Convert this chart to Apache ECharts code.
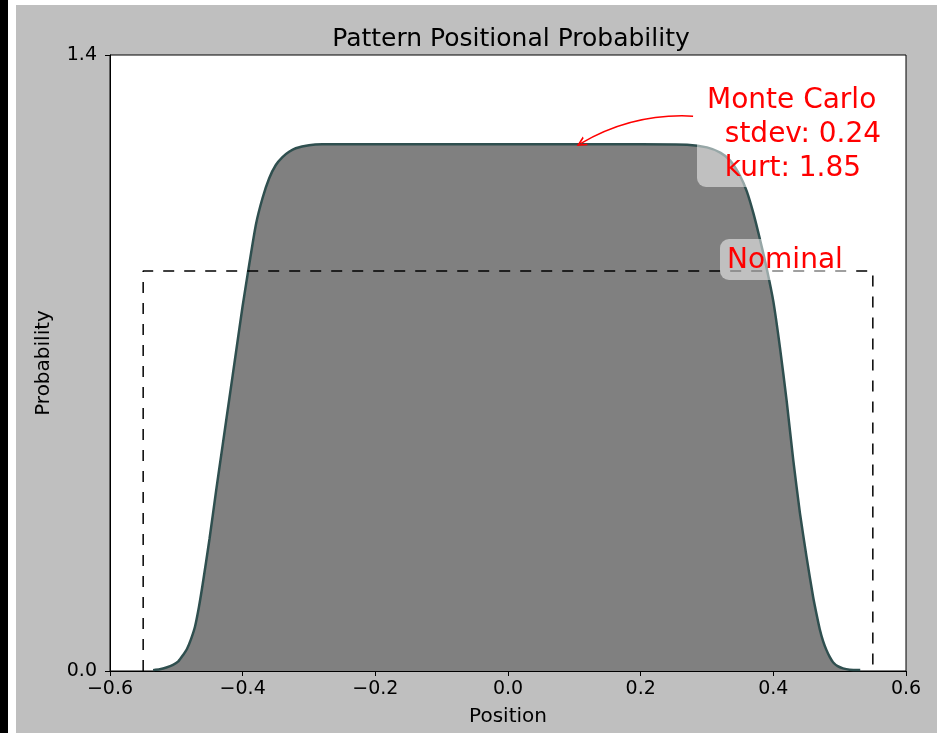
<!DOCTYPE html>
<html>
<head>
<meta charset="utf-8">
<script src="https://cdn.jsdelivr.net/npm/echarts@6/dist/echarts.min.js"></script>
<style>
  body { margin: 0; background: #fff; width: 941px; height: 733px; overflow: hidden; position: relative; }
  #edge { position: absolute; left: 0; top: 0; width: 8px; height: 733px; background: #000; }
  #chart { position: absolute; left: 16px; top: 5px; width: 921px; height: 728px; }
</style>
</head>
<body>
<div id="edge"></div>
<div id="chart"></div>
<script>
// Monte Carlo curve
var posX = [-0.535, -0.525, -0.515, -0.505, -0.497, -0.490, -0.484, -0.478, -0.472, -0.466,
            -0.460, -0.450, -0.440, -0.430, -0.420, -0.410, -0.400, -0.390, -0.380, -0.370,
            -0.360, -0.350, -0.340, -0.330, -0.320, -0.300, -0.280, -0.200, -0.100, 0.000,
            0.100, 0.200, 0.270, 0.300, 0.320, 0.335, 0.350, 0.360, 0.370, 0.380,
            0.390, 0.400, 0.410, 0.420, 0.430, 0.440, 0.450, 0.460, 0.465, 0.470,
            0.475, 0.480, 0.485, 0.490, 0.497, 0.505, 0.515, 0.531];
var probY = [0.002, 0.004, 0.008, 0.014, 0.022, 0.036, 0.050, 0.072, 0.100, 0.145,
             0.200, 0.300, 0.410, 0.515, 0.620, 0.725, 0.830, 0.925, 1.015, 1.075,
             1.120, 1.150, 1.168, 1.180, 1.188, 1.195, 1.197, 1.197, 1.197, 1.197,
             1.197, 1.197, 1.196, 1.190, 1.178, 1.160, 1.125, 1.090, 1.040, 0.980,
             0.915, 0.840, 0.735, 0.615, 0.480, 0.360, 0.260, 0.168, 0.130, 0.095,
             0.068, 0.048, 0.032, 0.020, 0.011, 0.006, 0.003, 0.002];

// nominal (uniform) outline
var nomX = [-0.55, -0.55, 0.55, 0.55];
var nomY = [0, 0.909, 0.909, 0];

// arrow: text -> curve top
var arrowFrom = [0.279, 1.261];
var arrowTo = [0.110, 1.199];

var xTicks = [-0.6, -0.4, -0.2, 0.0, 0.2, 0.4, 0.6];
var yTicks = [0.0, 1.4];

var FONT = 'DejaVu Sans';

function pairs(xs, ys) {
  var out = [];
  for (var i = 0; i < xs.length; i++) out.push([xs[i], ys[i]]);
  return out;
}
function fmt(v) {
  return v.toFixed(1).replace('-', '\u2212');
}

var chart = echarts.init(document.getElementById('chart'));

var option = {
  backgroundColor: '#bfbfbf',
  animation: false,
  title: {
    text: 'Pattern Positional Probability',
    left: 490,
    textAlign: 'center',
    top: 17,
    textStyle: { fontFamily: FONT, fontSize: 25, fontWeight: 'normal', color: '#000' }
  },
  grid: {
    left: 94, right: 31, top: 50, bottom: 62,
    show: true, backgroundColor: '#fff', borderColor: '#000', borderWidth: 1
  },
  xAxis: {
    type: 'value',
    min: xTicks[0], max: xTicks[xTicks.length - 1], interval: 0.2,
    name: 'Position', nameLocation: 'middle', nameGap: 36,
    nameTextStyle: { fontFamily: FONT, fontSize: 20, color: '#000' },
    axisLine: { onZero: false, lineStyle: { color: '#000', width: 1 } },
    axisTick: { show: true, length: 5, lineStyle: { color: '#000' } },
    axisLabel: { fontFamily: FONT, fontSize: 19, color: '#000', margin: 9, formatter: fmt },
    splitLine: { show: false }
  },
  yAxis: {
    type: 'value',
    min: yTicks[0], max: yTicks[1], interval: 1.4,
    name: 'Probability', nameLocation: 'middle', nameGap: 56,
    nameTextStyle: { fontFamily: FONT, fontSize: 20, color: '#000' },
    axisLine: { onZero: false, lineStyle: { color: '#000', width: 1 } },
    axisTick: { show: true, length: 5, lineStyle: { color: '#000' } },
    axisLabel: { fontFamily: FONT, fontSize: 19, color: '#000', margin: 13, formatter: fmt },
    splitLine: { show: false }
  },
  series: [
    {
      name: 'Monte Carlo',
      type: 'line',
      data: pairs(posX, probY),
      smooth: 0.2,
      showSymbol: false,
      lineStyle: { color: '#2f4f4f', width: 2.5 },
      areaStyle: { color: '#808080', opacity: 1 },
      z: 2
    },
    {
      name: 'Nominal',
      type: 'line',
      data: pairs(nomX, nomY),
      showSymbol: false,
      lineStyle: { color: '#000', width: 1.5, type: [11, 10] },
      z: 3
    },
    {
      type: 'lines',
      coordinateSystem: 'cartesian2d',
      polyline: false,
      data: [{ coords: [arrowFrom, arrowTo] }],
      symbol: ['none', 'path://M0,10 L5,0 L10,10 L8.2,10 L5,3.6 L1.8,10 Z'],
      symbolSize: [12, 10],
      lineStyle: { color: '#ff0000', width: 1.5, curveness: -0.15, opacity: 1 },
      z: 4
    }
  ],
  graphic: [
    {
      type: 'rect', z: 100,
      shape: { x: 681, y: 75, width: 192, height: 107, r: 9 },
      style: { fill: 'rgba(255,255,255,0.5)' }
    },
    {
      type: 'text', z: 101,
      x: 691, y: 79,
      style: {
        text: 'Monte Carlo\n  stdev: 0.24\n  kurt: 1.85',
        font: '28px "DejaVu Sans"', fill: '#ff0000',
        lineHeight: 34, textVerticalAlign: 'top'
      }
    },
    {
      type: 'rect', z: 100,
      shape: { x: 704, y: 234, width: 134, height: 41, r: 9 },
      style: { fill: 'rgba(255,255,255,0.5)' }
    },
    {
      type: 'text', z: 101,
      x: 711, y: 239,
      style: {
        text: 'Nominal',
        font: '28px "DejaVu Sans"', fill: '#ff0000',
        lineHeight: 34, textVerticalAlign: 'top'
      }
    }
  ]
};

chart.setOption(option);
</script>
</body>
</html>
